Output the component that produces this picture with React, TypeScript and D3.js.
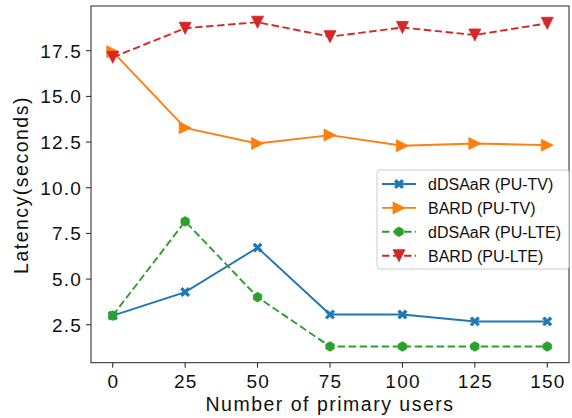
import React from "react";
import * as d3 from "d3";

const users = [0, 25, 50, 75, 100, 125, 150];
const dsaarTV = [3.0, 4.29, 6.72, 3.06, 3.06, 2.68, 2.68];
const bardTV = [17.45, 13.28, 12.42, 12.88, 12.3, 12.42, 12.33];
const dsaarLTE = [3.0, 8.16, 4.01, 1.31, 1.31, 1.31, 1.31];
const bardLTE = [17.14, 18.73, 19.06, 18.27, 18.77, 18.36, 19.0];
const xTicks = [0, 25, 50, 75, 100, 125, 150];
const yTicks = [2.5, 5.0, 7.5, 10.0, 12.5, 15.0, 17.5];
const seriesNames = ["dDSAaR (PU-TV)", "BARD (PU-TV)", "dDSAaR (PU-LTE)", "BARD (PU-LTE)"];

const W = 572, H = 418;
const L = 91, R = 569, T = 6, B = 362.7;
const FONT = "'Liberation Sans', Arial, Helvetica, sans-serif";

type Marker = "X" | "tri-right" | "hex" | "tri-down";

function markerPath(m: Marker, cx: number, cy: number): string {
  if (m === "X") {
    const s = 4.6, t = 1.9;
    const pts: [number, number][] = [
      [-s + t, -s], [0, -t], [s - t, -s], [s, -s + t], [t, 0], [s, s - t],
      [s - t, s], [0, t], [-s + t, s], [-s, s - t], [-t, 0], [-s, -s + t],
    ];
    return "M" + pts.map(p => `${cx + p[0]},${cy + p[1]}`).join("L") + "Z";
  }
  if (m === "tri-right") {
    const s = 6;
    return `M${cx + s},${cy}L${cx - s},${cy - s}L${cx - s},${cy + s}Z`;
  }
  if (m === "tri-down") {
    const s = 6;
    return `M${cx},${cy + s}L${cx - s},${cy - s}L${cx + s},${cy - s}Z`;
  }
  const r = 4.8;
  const pts: string[] = [];
  for (let i = 0; i < 6; i++) {
    const a = Math.PI / 2 + (i * Math.PI) / 3;
    pts.push(`${cx + r * Math.cos(a)},${cy - r * Math.sin(a)}`);
  }
  return "M" + pts.join("L") + "Z";
}

export default function App() {
  const all = [...dsaarTV, ...bardTV, ...dsaarLTE, ...bardLTE];
  const mn = d3.min(all)!, mx = d3.max(all)!;
  const pad = (mx - mn) * 0.05;
  const x = d3.scaleLinear().domain([-7.5, 157.5]).range([L, R]);
  const y = d3.scaleLinear().domain([mn - pad, mx + pad]).range([B, T]);

  const series = [
    { vals: dsaarTV, color: "#1f77b4", dash: "none", marker: "X" as Marker },
    { vals: bardTV, color: "#ff7f0e", dash: "none", marker: "tri-right" as Marker },
    { vals: dsaarLTE, color: "#2ca02c", dash: "7.5,3.5", marker: "hex" as Marker },
    { vals: bardLTE, color: "#d62728", dash: "7.5,3.5", marker: "tri-down" as Marker },
  ];

  const line = d3.line<number>().x((_, i) => x(users[i])).y(d => y(d));

  const legX = 377, legY = 170, legW = 192, legH = 99;
  const rowY = (i: number) => 184 + i * 23.9;

  return (
    <svg width={W} height={H} style={{ position: "absolute", left: 0, top: 0, background: "#fff" }}>
      <rect x={0} y={0} width={W} height={H} fill="#fff" />
      {series.map((s, si) => (
        <g key={si}>
          <path d={line(s.vals) || ""} fill="none" stroke={s.color} strokeWidth={1.9} strokeDasharray={s.dash} />
          {s.vals.map((v, i) => (
            <path key={i} d={markerPath(s.marker, x(users[i]), y(v))} fill={s.color} stroke={s.color} strokeWidth={0.8} />
          ))}
        </g>
      ))}
      {/* spines */}
      <rect x={L} y={T} width={R - L} height={B - T} fill="none" stroke="#222" strokeWidth={1} />
      {/* x ticks */}
      {xTicks.map(t => (
        <g key={t}>
          <line x1={x(t)} x2={x(t)} y1={B} y2={B + 5} stroke="#222" strokeWidth={1} />
          <text x={x(t) + 0.6} y={387.5} textAnchor="middle" fontFamily={FONT} fontSize={19} letterSpacing={1.2} fill="#111">
            {String(t)}
          </text>
        </g>
      ))}
      {yTicks.map(t => (
        <g key={t}>
          <line x1={L - 5} x2={L} y1={y(t)} y2={y(t)} stroke="#222" strokeWidth={1} />
          <text x={82} y={y(t) + 6.8} textAnchor="end" fontFamily={FONT} fontSize={19} letterSpacing={1.2} fill="#111">
            {t.toFixed(1)}
          </text>
        </g>
      ))}
      <text x={330} y={411} textAnchor="middle" fontFamily={FONT} fontSize={19.5} letterSpacing={1.5} fill="#111">
        Number of primary users
      </text>
      <text transform={`translate(28,185) rotate(-90)`} textAnchor="middle" fontFamily={FONT} fontSize={19.5} letterSpacing={1.5} fill="#111">
        Latency(seconds)
      </text>
      {/* legend */}
      <rect x={legX} y={legY} width={legW} height={legH} rx={3} ry={3} fill="#fff" fillOpacity={0.8} stroke="#ccc" strokeWidth={1} />
      {series.map((s, i) => (
        <g key={i}>
          <line x1={382} x2={416} y1={rowY(i)} y2={rowY(i)} stroke={s.color} strokeWidth={1.9} strokeDasharray={s.dash} />
          <path d={markerPath(s.marker, 399, rowY(i))} fill={s.color} stroke={s.color} strokeWidth={0.8} />
          <text x={428} y={rowY(i) + 5.8} fontFamily={FONT} fontSize={16} fill="#111">
            {seriesNames[i]}
          </text>
        </g>
      ))}
    </svg>
  );
}
